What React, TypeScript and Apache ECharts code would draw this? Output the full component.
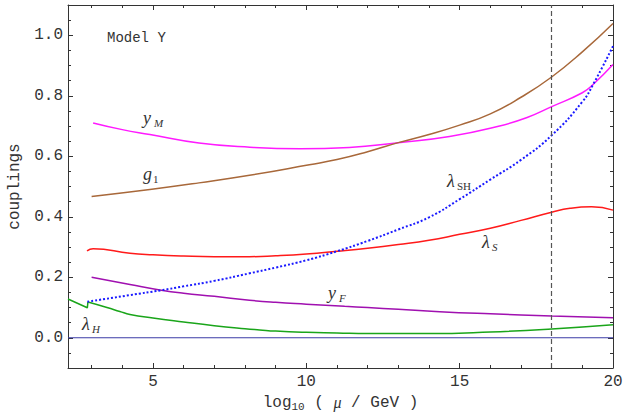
import React, { useEffect, useRef } from "react";
import * as echarts from "echarts";

const X_MIN = 2.23;
const X_MAX = 20;
const Y_MIN = -0.1;
const Y_MAX = 1.1;
const X_MAJOR = [5, 10, 15, 20];
const X_MINOR = [3, 4, 6, 7, 8, 9, 11, 12, 13, 14, 16, 17, 18, 19];
const Y_MAJOR = [0, 0.2, 0.4, 0.6, 0.8, 1.0];
const Y_MINOR = [-0.05, 0.05, 0.1, 0.15, 0.25, 0.3, 0.35, 0.45, 0.5, 0.55, 0.65, 0.7, 0.75, 0.85, 0.9, 0.95, 1.05];
const PLANCK = 18;

const yM = [[3.05, 0.71], [4, 0.688], [4.9, 0.672], [6.5, 0.644], [8.16, 0.63], [9.8, 0.625], [11.4, 0.629], [13, 0.645], [14.67, 0.665], [16.3, 0.7], [17.2, 0.728], [18, 0.764], [19, 0.81], [19.35, 0.837], [20, 0.903]];
const g1 = [[3, 0.467], [4.9, 0.49], [6.5, 0.512], [8.15, 0.537], [10.1, 0.572], [11, 0.589], [12, 0.615], [13, 0.645], [14, 0.672], [15, 0.703], [16, 0.74], [17, 0.795], [18, 0.862], [19, 0.945], [20, 1.039]];
const lamSH = [[2.86, 0.119], [4.25, 0.141], [5.27, 0.157], [6, 0.17], [7, 0.188], [8.15, 0.213], [9, 0.232], [10, 0.256], [11, 0.286], [12, 0.32], [13, 0.358], [14, 0.398], [15, 0.458], [16, 0.523], [17, 0.588], [18, 0.669], [19, 0.78], [19.35, 0.837], [20, 0.964]];
const lamS = [[2.85, 0.287], [3.05, 0.294], [4.25, 0.279], [5, 0.274], [6, 0.27], [7, 0.268], [8.15, 0.268], [9, 0.271], [10, 0.277], [11, 0.286], [12, 0.296], [13, 0.308], [14, 0.322], [15, 0.342], [16, 0.362], [17, 0.388], [18, 0.415], [18.6, 0.428], [19.3, 0.433], [20, 0.422]];
const yF = [[3, 0.2], [4.25, 0.176], [5.27, 0.157], [6, 0.147], [7, 0.137], [8.15, 0.124], [9, 0.117], [10, 0.111], [11.25, 0.104], [12, 0.1], [13, 0.094], [14.35, 0.086], [16, 0.079], [18, 0.072], [20, 0.066]];
const lamHLow = [[2.23, 0.128], [2.86, 0.099], [2.88, 0.118]];
const lamH = [[2.88, 0.118], [3.5, 0.1], [3.92, 0.087], [4.25, 0.077], [5, 0.065], [6, 0.052], [7, 0.04], [8, 0.03], [8.48, 0.026], [9, 0.022], [10, 0.018], [11, 0.016], [12, 0.014], [14, 0.014], [16, 0.019], [18, 0.029], [20, 0.043]];
const zeroLine = [[2.23, 0], [20, 0]];

const MONO = "'Liberation Mono', 'DejaVu Sans Mono', monospace";
const SERIF = "'Liberation Serif', 'DejaVu Serif', serif";

function lbl(main: string, sub: string, x: number, y: number, subItalic: boolean, subDx: number) {
  return [
    { type: "text", x, y, style: { text: main, font: `italic 18px ${SERIF}`, fill: "#333", textVerticalAlign: "middle" } },
    { type: "text", x: x + subDx, y: y + 5, style: { text: sub, font: `${subItalic ? "italic " : ""}11px ${SERIF}`, fill: "#333", textVerticalAlign: "middle" } },
  ];
}

function xAxisDef(position: string, major: boolean, labels: boolean) {
  return {
    type: "value", position, min: X_MIN, max: X_MAX, gridIndex: 0,
    splitLine: { show: false },
    axisLine: { show: major, onZero: false, lineStyle: { color: "#333", width: 1 } },
    axisTick: { show: true, inside: true, length: major ? 5 : 3, customValues: major ? X_MAJOR : X_MINOR, lineStyle: { color: "#333" } },
    axisLabel: { show: labels, customValues: X_MAJOR, margin: 6, fontFamily: MONO, fontSize: 16, color: "#333" },
    ...(labels ? {
      name: "{a|log}{s|10}{a| ( }{m|μ}{a| / GeV )}",
      nameLocation: "middle", nameGap: 21,
      nameTextStyle: {
        fontFamily: MONO, fontSize: 16, color: "#333",
        rich: {
          a: { fontFamily: MONO, fontSize: 16, color: "#333" },
          s: { fontFamily: MONO, fontSize: 11, color: "#333", padding: [8, 0, 0, 0] },
          m: { fontFamily: SERIF, fontStyle: "italic", fontSize: 16, color: "#333" },
        },
      },
    } : {}),
  };
}

function yAxisDef(position: string, major: boolean, labels: boolean) {
  return {
    type: "value", position, min: Y_MIN, max: Y_MAX, gridIndex: 0,
    splitLine: { show: false },
    axisLine: { show: major, onZero: false, lineStyle: { color: "#333", width: 1 } },
    axisTick: { show: true, inside: true, length: major ? 5 : 3, customValues: major ? Y_MAJOR : Y_MINOR, lineStyle: { color: "#333" } },
    axisLabel: { show: labels, customValues: Y_MAJOR, margin: 5, fontFamily: MONO, fontSize: 16, color: "#333", formatter: (v: number) => v.toFixed(1) },
    ...(labels ? {
      name: "couplings", nameLocation: "middle", nameGap: 43, nameRotate: 90,
      nameTextStyle: { fontFamily: MONO, fontSize: 16, color: "#333" },
    } : {}),
  };
}

function line(data: number[][], color: string, width = 1.5, type = "solid") {
  return {
    type: "line", data, showSymbol: false, symbol: "none", smooth: 0.5,
    lineStyle: { color, width, type }, xAxisIndex: 0, yAxisIndex: 0, silent: true,
  };
}

export default function App() {
  const ref = useRef<HTMLDivElement>(null);
  useEffect(() => {
    const chart = echarts.init(ref.current!, null, { renderer: "svg" });
    chart.setOption({
      animation: false,
      backgroundColor: "#fff",
      grid: { left: 68, right: 11, top: 5, bottom: 45, containLabel: false, outerBoundsMode: "none" },
      xAxis: [xAxisDef("bottom", true, true), xAxisDef("bottom", false, false), xAxisDef("top", true, false), xAxisDef("top", false, false)],
      yAxis: [yAxisDef("left", true, true), yAxisDef("left", false, false), yAxisDef("right", true, false), yAxisDef("right", false, false)],
      series: [
        {
          ...line(zeroLine, "#3b3ba6", 1),
          smooth: false,
          markLine: {
            silent: true, symbol: "none", label: { show: false },
            lineStyle: { color: "#555", type: [5, 3], width: 1.2 },
            data: [{ xAxis: PLANCK }],
          },
        },
        line(yM, "#ff1aff"),
        line(g1, "#a8683a"),
        line(lamS, "#ff1a1a"),
        line(yF, "#a010b0"),
        { ...line(lamHLow, "#1aa51a"), smooth: false },
        line(lamH, "#1aa51a"),
        line(lamSH, "#1a1aff", 2, "dotted"),
      ],
      graphic: [
        { type: "text", x: 107, y: 38, style: { text: "Model Y", font: `14px ${MONO}`, fill: "#333", textVerticalAlign: "middle" } },
        ...lbl("y", "M", 143, 118, true, 11),
        ...lbl("g", "1", 143, 174, false, 10),
        ...lbl("λ", "SH", 447, 181, false, 10),
        ...lbl("λ", "S", 482, 242, true, 10),
        ...lbl("λ", "H", 82, 324, true, 10),
        ...lbl("y", "F", 328, 293, true, 11),
      ],
    });
    return () => chart.dispose();
  }, []);
  return <div ref={ref} style={{ position: "fixed", left: 0, top: 0, width: 624, height: 413 }} />;
}
